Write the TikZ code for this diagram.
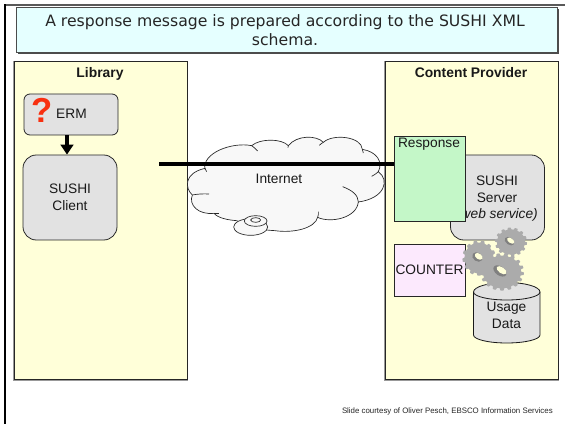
\documentclass[tikz,border=0pt]{standalone}
\usepackage{fontspec}
\setmainfont{Liberation Sans}
\newfontfamily\verdanafont{DejaVu Sans}
\usetikzlibrary{arrows.meta}
\definecolor{panelyellow}{HTML}{FFFFD9}
\definecolor{boxgray}{HTML}{E2E2E2}
\definecolor{titlecyan}{HTML}{E5FFFF}
\definecolor{respgreen}{HTML}{C4F7C8}
\definecolor{countpink}{HTML}{FCE9FD}
\definecolor{cloudfill}{HTML}{F8F8F8}
\definecolor{qred}{HTML}{F83010}
\definecolor{gearcol}{HTML}{ABABAB}
\newcommand{\gearshape}[6]{% cx cy rx ry teeth holecolor
  \fill[gearcol] plot[samples=241,domain=0:360,variable=\t]
   ({#1+(#3)*(1+0.07*max(min(2.5*sin(#5*\t),1),-1))*cos(\t)},{#2+(#4)*(1+0.07*max(min(2.5*sin(#5*\t),1),-1))*sin(\t)}) -- cycle;
  \fill[black!50,rotate around={-35:(#1-0.1*#3,#2-0.06*#4)}] (#1-0.1*#3,#2-0.06*#4) ellipse[x radius=0.36*#3,y radius=0.26*#4];
  \fill[#6,rotate around={-35:(#1-0.02*#3,#2-0.1*#4)}] (#1-0.02*#3,#2-0.1*#4) ellipse[x radius=0.28*#3,y radius=0.17*#4];
}
\tikzset{
  x=0.75pt,y=-0.75pt,
  panel/.style={draw=black!85,fill=panelyellow,line width=0.6pt},
  smallbox/.style={draw=black!85,fill=boxgray,line width=0.6pt,rounded corners=4.5pt,minimum width=70.5pt},
  bigbox/.style={draw=black!85,fill=boxgray,line width=0.6pt,rounded corners=10pt,minimum width=70.5pt,minimum height=63.75pt},
  docbox/.style={draw=black!85,line width=0.6pt,minimum width=53.25pt},
  lbl/.style={font=\fontsize{10.3}{12.7}\selectfont,align=center,text=black!90,inner sep=0pt},
  hdr/.style={font=\bfseries\fontsize{10.4}{12}\selectfont,text=black!90,inner sep=0pt,anchor=base},
  cloudline/.style={draw=black!85,line width=0.5pt},
}
\begin{document}
\begin{tikzpicture}
\useasboundingbox (0,0) rectangle (565,424);
\fill[white] (0,0) rectangle (565,424);
\draw[black!65,line width=0.9pt] (5,5) -- (565,5);
\draw[black,line width=1.5pt] (5,424) -- (5,4.5);
\fill[black!70] (18,9) rectangle (559,54);
\draw[draw=black!70,fill=titlecyan,line width=0.5pt] (16,7) rectangle (557,52);
\node[font=\verdanafont\fontsize{11.75}{14.3}\selectfont,align=center,text=black!85,inner sep=0pt] (title) at (285,30.5) {A response message is prepared according to the SUSHI XML\\schema.};

\draw[black!40,line width=0.9pt] (14,61) -- (14,380) -- (188,380);
\draw[black!40,line width=0.9pt] (385,61) -- (385,380) -- (559,380);
\draw[panel] (14.5,61) rectangle (187.5,379);
\draw[panel] (385.5,61) rectangle (558,379);
\node[hdr] (lib) at (100,77.5) {Library};
\node[hdr] (cp) at (471,77.5) {Content Provider};

\node[smallbox,minimum height=30.75pt] (erm) at (71,114.5) {};
\node[bigbox] (client) at (70,197.5) {};
\node[lbl] (ermtxt) at (71.5,114) {ERM};
\node[font=\bfseries\fontsize{26}{26}\selectfont,text=qred,inner sep=0pt] (q) at (42,110.5) {?};
\node[lbl] (clienttxt) at (70,197) {SUSHI\\Client};
\draw[black,line width=2.6pt,-{Triangle[length=7.5pt,width=9.5pt]}] ([xshift=-3pt]erm.south) -- ([xshift=-2.25pt]client.north);

% cloud
\begin{scope}[shift={(160,130)},x=0.25pt,y=-0.25pt]
\path[cloudline,fill=cloudfill] (135,118)
  .. controls (125,70) and (215,35) .. (275,47)
  .. controls (300,25) and (365,25) .. (385,47)
  .. controls (410,15) and (470,15) .. (490,37)
  .. controls (520,10) and (605,20) .. (607,58)
  .. controls (650,65) and (670,95) .. (655,125)
  .. controls (690,150) and (675,205) .. (595,216)
  .. controls (590,265) and (510,280) .. (473,262)
  .. controls (465,295) and (400,310) .. (345,302)
  .. controls (300,300) and (260,290) .. (230,272)
  .. controls (205,270) and (175,265) .. (162,250)
  .. controls (115,255) and (85,225) .. (97,195)
  .. controls (75,175) and (70,130) .. (135,115)
  -- cycle;
\draw[cloudline] (275,47) .. controls (282,52) and (288,57) .. (293,63);
\draw[cloudline] (385,47) .. controls (384,49) and (384,51) .. (384,53);
\draw[cloudline] (490,37) .. controls (486,39) and (482,42) .. (478,46);
\draw[cloudline] (607,58) .. controls (608,62) and (609,65) .. (610,69);
\draw[cloudline] (655,125) .. controls (650,130) and (643,135) .. (635,139);
\draw[cloudline] (595,216) .. controls (595,195) and (575,180) .. (548,170);
\draw[cloudline] (473,262) .. controls (475,257) and (476,250) .. (475,245);
\draw[cloudline] (162,250) .. controls (168,250) and (174,250) .. (178,250);
\draw[cloudline] (97,195) .. controls (112,192) and (130,191) .. (147,192);
\draw[cloudline] (135,115) .. controls (136,118) and (138,122) .. (140,125);
\draw[cloudline,fill=cloudfill] (272,291) ellipse[x radius=51,y radius=25];
\draw[cloudline,fill=cloudfill] (287,273) ellipse[x radius=34,y radius=16];
\draw[cloudline,fill=cloudfill] (287,270) ellipse[x radius=15,y radius=7];
\end{scope}
\node[lbl] (net) at (279,179) {Internet};

\node[bigbox] (server) at (497.5,197.5) {};
\node[lbl] (servertxt) at (497,189) {SUSHI\\Server};
\node[lbl,font=\itshape\fontsize{10.3}{12.7}\selectfont] (ws) at (497,214.5) {(web service)};
\node[docbox,fill=respgreen,minimum height=63.75pt] (resp) at (429.5,178.5) {};
\node[lbl,font=\fontsize{10.3}{12}\selectfont] (resptxt) at (429,144.5) {Response};
\coordinate (linestart) at (159,164);
\draw[black,line width=2.6pt] (linestart) -- (linestart -| resp.west);

\node[docbox,fill=countpink,minimum height=39pt] (counter) at (429.5,270) {};
\node[lbl] (countertxt) at (429.5,270) {COUNTER};

% cylinder
\draw[draw=black!90,fill=boxgray,line width=0.6pt] (473.5,292) -- (473.5,335) arc[start angle=180,end angle=0,x radius=33.25,y radius=8] -- (540,292) arc[start angle=0,end angle=-180,x radius=33.25,y radius=9.5] -- cycle;
\draw[draw=black!90,line width=0.6pt] (473.5,292) arc[start angle=180,end angle=0,x radius=33.25,y radius=8];
\node[lbl] (usage) at (506.5,315) {Usage\\Data};

\gearshape{479}{258}{15.5}{16.5}{13}{panelyellow}
\gearshape{511}{242}{15}{13.5}{14}{panelyellow}
\gearshape{502}{272}{20.5}{17.5}{17}{panelyellow}

\node[font=\fontsize{5.9}{7}\selectfont,text=black!85,anchor=east,inner sep=0pt] (foot) at (553,411) {Slide courtesy of Oliver Pesch, EBSCO Information Services};
\end{tikzpicture}
\end{document}
